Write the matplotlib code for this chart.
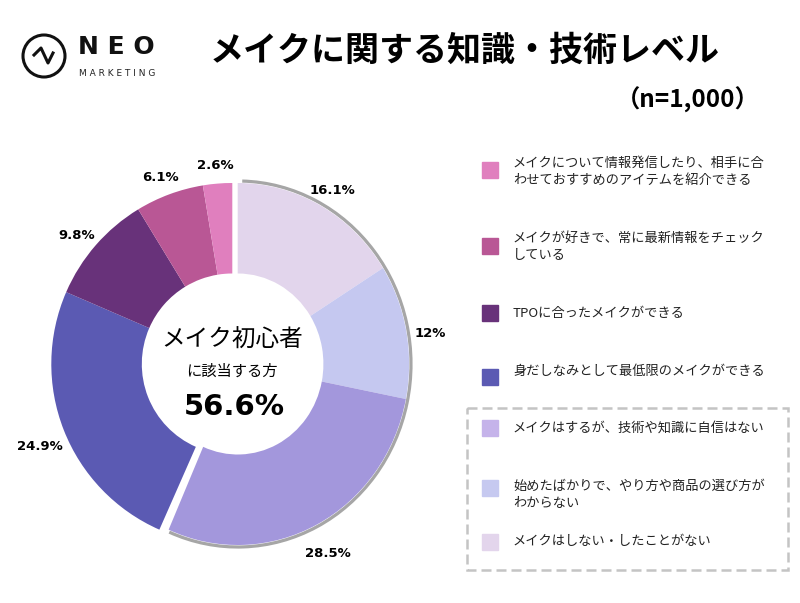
import matplotlib.pyplot as plt
import numpy as np
from matplotlib.patches import Arc, Circle, Rectangle
from matplotlib.transforms import Affine2D

plt.rcParams['font.family'] = ['Noto Sans CJK JP', 'DejaVu Sans']

# data, clockwise from 12 o'clock
values = [16.1, 12, 28.5, 24.9, 9.8, 6.1, 2.6]
pct_labels = ["16.1%", "12%", "28.5%", "24.9%", "9.8%", "6.1%", "2.6%"]
colors = ["#E2D5EC", "#C5C8F0", "#A397DC", "#5B5AB3", "#68327A", "#B95795", "#E07FBE"]
beginner = [True, True, True, False, False, False, False]

legend_labels = [
    "メイクについて情報発信したり、相手に合\nわせておすすめのアイテムを紹介できる",
    "メイクが好きで、常に最新情報をチェック\nしている",
    "TPOに合ったメイクができる",
    "身だしなみとして最低限のメイクができる",
    "メイクはするが、技術や知識に自信はない",
    "始めたばかりで、やり方や商品の選び方が\nわからない",
    "メイクはしない・したことがない",
]
legend_colors = ["#E07FBE", "#B95795", "#68327A", "#5B5AB3", "#C5B3EA", "#C6C9F0", "#E3D5EC"]
beginner_total = "56.6%"

W, H = 800, 603
fig = plt.figure(figsize=(W / 100, H / 100), dpi=100)

# pie axes, center at (232, 364) px, radius 181 px
R = 181
cx, cy = 232.3, 364
lim = 1.4
half = lim * R
ax = fig.add_axes([(cx - half) / W, (H - cy - half) / H, 2 * half / W, 2 * half / H])

# beginner group: pulled out to the right and slightly narrowed
group_frac = sum(v for v, b in zip(values, beginner) if b) / sum(values)
dx = 5.4 / R
sx = 0.947
grp = Affine2D().scale(sx, 1).translate(dx, 0)

wedges, texts = ax.pie(values, colors=colors, startangle=90, counterclock=False,
                       labels=pct_labels, labeldistance=1.14,
                       wedgeprops=dict(width=0.5, edgecolor="none"),
                       textprops=dict(fontsize=9.5, fontweight="bold", family="DejaVu Sans"))
for w, b in zip(wedges, beginner):
    if b:
        w.set_transform(grp + ax.transData)
    w.set_zorder(1)
for t, b in zip(texts, beginner):
    t.set_ha("center")
    t.set_va("center")
    x, y = t.get_position()
    if b:
        x, y = grp.transform((x, y))
    t.set_position((x, y - 7 / R))

# gray outline arc round the beginner group
end_ang = 90 - group_frac * 360
arc = Arc((0, 0), 2 * 1.011, 2 * 1.011, theta1=end_ang + 0.5, theta2=88.5,
          color="#A6A6A6", lw=2.3, zorder=0)
arc.set_transform(grp + ax.transData)
ax.add_patch(arc)

ax.set_xlim(-lim, lim)
ax.set_ylim(-lim, lim)
ax.set_aspect("equal")
ax.axis("off")

ax.text(0, 0.13, "メイク初心者", ha="center", va="center", fontsize=17, zorder=3)
ax.text(0, -0.04, "に該当する方", ha="center", va="center", fontsize=11, zorder=3)
ax.text(0.01, -0.24, beginner_total, ha="center", va="center", fontsize=21,
        fontweight="bold", family="DejaVu Sans", zorder=3)

# overlay axes in pixel coordinates
ov = fig.add_axes([0, 0, 1, 1])
ov.set_xlim(0, W)
ov.set_ylim(H, 0)
ov.axis("off")

# logo
ov.add_patch(Circle((44, 56), 21, fill=False, lw=2.2, ec="#111111"))
ov.plot([34, 41, 48, 53], [55, 48, 63, 53], color="#111111", lw=2.2)
ov.text(78, 47, "N E O", fontsize=18, fontweight="bold", ha="left", va="center",
        family="DejaVu Sans", color="#111111")
ov.text(79, 73, "M A R K E T I N G", fontsize=6.5, ha="left", va="center",
        family="DejaVu Sans", color="#222222")

# titles
ov.text(465, 50, "メイクに関する知識・技術レベル", fontsize=24.5, fontweight="bold",
        ha="center", va="center")
ov.text(688, 100, "（n=1,000）", fontsize=17.5, fontweight="bold", ha="center", va="center")

# legend
sq_y = [170, 246, 313, 377, 428, 488, 542]
txt_y = [172, 247, 314, 371, 428, 495, 542]
for lab, col, sy, ty in zip(legend_labels, legend_colors, sq_y, txt_y):
    ov.add_patch(Rectangle((482, sy - 8), 16, 16, color=col))
    ov.text(513, ty, lab, fontsize=9.5, ha="left", va="center", linespacing=1.35, color="#222222")

ov.add_patch(Rectangle((467, 408), 321, 162, fill=False, ec="#C4C4C4", lw=1.8, ls=(0, (4, 2))))

fig.savefig("out.png", dpi=100)
